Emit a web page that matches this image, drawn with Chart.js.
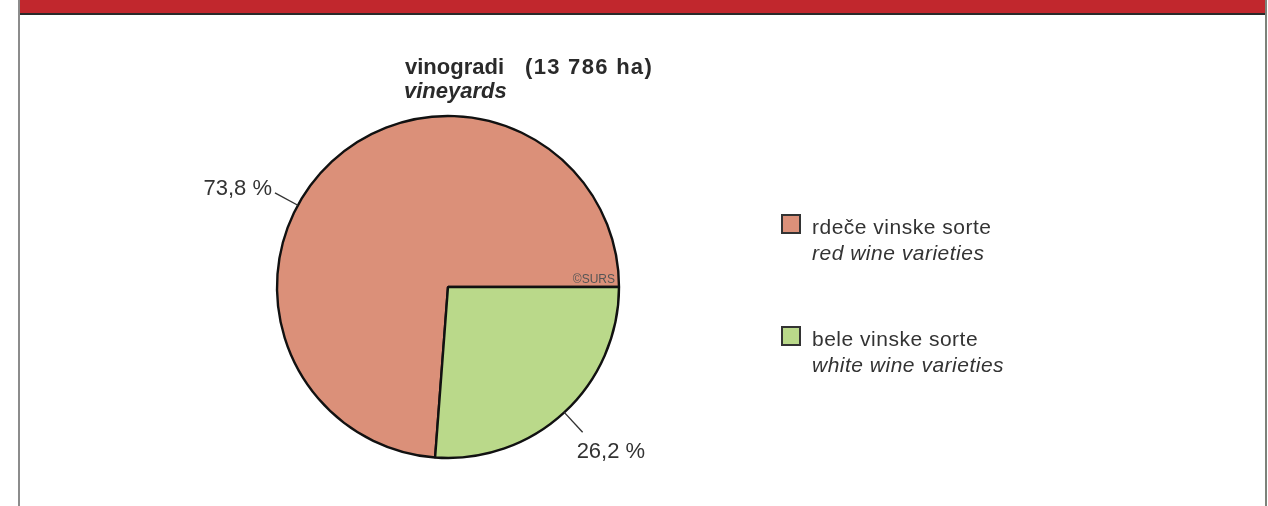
<!DOCTYPE html>
<html>
<head>
<meta charset="utf-8">
<script src="https://cdn.jsdelivr.net/npm/chart.js@4/dist/chart.umd.min.js"></script>
<style>
  html, body { margin: 0; padding: 0; background: #fff; }
  body { width: 1268px; height: 506px; overflow: hidden; position: relative; font-family: "Liberation Sans", Arial, sans-serif; color: #2b2b2b; }
  #frame { position: absolute; left: 18px; top: 0; width: 1245px; height: 520px; border-left: 2px solid #8c8c8c; border-right: 2px solid #7c837a; }
  #bar { position: absolute; left: 20px; top: 0; width: 1245px; height: 13px; background: #c1272d; border-bottom: 2px solid #2a2a2a; }
  #chart { position: absolute; left: 0; top: 0; }
  .title { position: absolute; font-weight: bold; font-size: 22px; line-height: 24px; white-space: pre; color: #2a2a2a; }
  .legend { position: absolute; font-size: 21px; line-height: 26px; letter-spacing: 0.5px; color: #333; white-space: nowrap; }
  .legend i { display: block; }
  .swatch { position: absolute; width: 16px; height: 16px; border: 2px solid #333; }
</style>
</head>
<body>
<div id="frame"></div>
<div id="bar"></div>
<canvas id="chart" width="1268" height="506"></canvas>
<div class="title" id="t1" style="left:405px; top:55px;"></div>
<div class="title" id="t1b" style="left:525px; top:55px; letter-spacing:1.3px;"></div>
<div class="title" id="t2" style="left:404px; top:79px; font-style:italic;"></div>
<div id="legend"></div>
<script>
// ---- data ----
const categories = ["rdeče vinske sorte", "bele vinske sorte"];
const categoriesEn = ["red wine varieties", "white wine varieties"];
const shares = [73.8, 26.2];
const totalArea = "13 786";
const titleSl = "vinogradi";
const titleEn = "vineyards";
const sourceNote = "©SURS";

// ---- styles ----
const sliceColors = ["#db9079", "#bad98a"];
const labelStyle = [
  { fraction: 0.43, len: 26, align: "right", dx: -3, dy: -4, base: "middle" },
  { fraction: 0.5, len: 27, align: "left", dx: -6, dy: 20, base: "middle" }
];

document.getElementById("t1").textContent = titleSl;
document.getElementById("t1b").textContent = "(" + totalArea + " ha)";
document.getElementById("t2").textContent = titleEn;

const legendTop = [214, 326];
const lg = document.getElementById("legend");
categories.forEach((c, i) => {
  const sw = document.createElement("div");
  sw.className = "swatch";
  sw.style.left = "781px";
  sw.style.top = legendTop[i] + "px";
  sw.style.background = sliceColors[i];
  lg.appendChild(sw);
  const tx = document.createElement("div");
  tx.className = "legend";
  tx.style.left = "812px";
  tx.style.top = legendTop[i] + "px";
  const l1 = document.createElement("span"); l1.textContent = c;
  const l2 = document.createElement("i"); l2.textContent = categoriesEn[i];
  tx.appendChild(l1); tx.appendChild(l2);
  lg.appendChild(tx);
});

const fmt = v => v.toFixed(1).replace(".", ",") + " %";

const labelPlugin = {
  id: "pieLabels",
  afterDatasetsDraw(chart) {
    const ctx = chart.ctx;
    const meta = chart.getDatasetMeta(0);
    meta.data.forEach((arc, i) => {
      const p = arc.getProps(["x", "y", "startAngle", "endAngle", "outerRadius"], true);
      const s = labelStyle[i];
      const a = p.startAngle + (p.endAngle - p.startAngle) * s.fraction;
      const r1 = p.outerRadius, r2 = p.outerRadius + s.len;
      const x1 = p.x + Math.cos(a) * r1, y1 = p.y + Math.sin(a) * r1;
      const x2 = p.x + Math.cos(a) * r2, y2 = p.y + Math.sin(a) * r2;
      ctx.save();
      ctx.strokeStyle = "#333";
      ctx.lineWidth = 1.4;
      ctx.beginPath(); ctx.moveTo(x1, y1); ctx.lineTo(x2, y2); ctx.stroke();
      ctx.fillStyle = "#333";
      ctx.font = '22px "Liberation Sans", Arial, sans-serif';
      ctx.textAlign = s.align;
      ctx.textBaseline = s.base;
      ctx.fillText(fmt(shares[i]), x2 + s.dx, y2 + s.dy);
      ctx.restore();
    });
    // source note
    const a0 = meta.data[0].getProps(["x", "y", "outerRadius"], true);
    ctx.save();
    ctx.fillStyle = "#555";
    ctx.font = '12px "Liberation Sans", Arial, sans-serif';
    ctx.textAlign = "right";
    ctx.textBaseline = "alphabetic";
    ctx.fillText(sourceNote, a0.x + a0.outerRadius - 4, a0.y - 4);
    ctx.restore();
  }
};

const total = shares.reduce((a, b) => a + b, 0);
new Chart(document.getElementById("chart"), {
  type: "pie",
  data: {
    labels: categories,
    datasets: [{
      data: shares,
      backgroundColor: sliceColors,
      borderColor: "#111",
      borderWidth: 2.4
    }]
  },
  options: {
    responsive: false,
    animation: false,
    radius: 171,
    rotation: 90 - 360 * shares[0] / total,
    layout: { padding: { left: 268, right: 640, top: 107, bottom: 39 } },
    plugins: { legend: { display: false }, title: { display: false }, tooltip: { enabled: false } }
  },
  plugins: [labelPlugin]
});
</script>
</body>
</html>
